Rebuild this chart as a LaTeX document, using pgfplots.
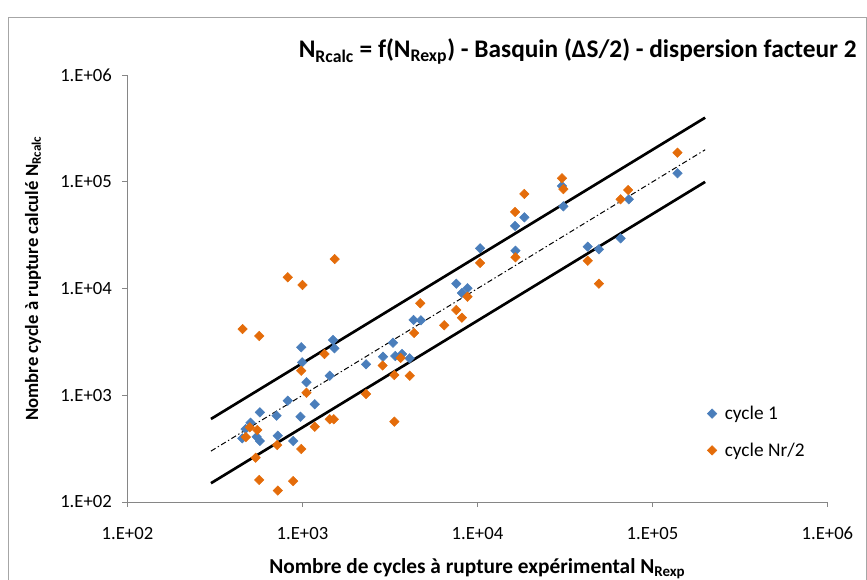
\documentclass[border=0pt]{standalone}
\usepackage{fontspec}
\setmainfont{Carlito}
\usepackage{pgfplots}
\pgfplotsset{compat=1.18}
\definecolor{cblue}{HTML}{4A7EBB}
\definecolor{corange}{HTML}{E46C0A}
\definecolor{axgray}{HTML}{868686}
\definecolor{bordergray}{HTML}{A6A6A6}
\begin{document}
\begin{tikzpicture}
\path[use as bounding box] (0,0) rectangle (650.25pt,434.25pt);
\draw[bordergray, line width=0.75pt] (6pt,-5pt) -- (6pt,420.75pt) -- (649.5pt,420.75pt) -- (649.5pt,-5pt);
\begin{axis}[
  at={(95.6pt,57.75pt)}, anchor=south west,
  scale only axis, width=525pt, height=320.1pt,
  xmode=log, ymode=log,
  xmin=1e2, xmax=1e6, ymin=1e2, ymax=1e6,
  axis x line*=bottom, axis y line*=left,
  axis line style={axgray, line width=0.75pt},
  xtick={1e2,1e3,1e4,1e5,1e6},
  xticklabels={1.E+02,1.E+03,1.E+04,1.E+05,1.E+06},
  ytick={1e2,1e3,1e4,1e5,1e6},
  yticklabels={1.E+02,1.E+03,1.E+04,1.E+05,1.E+06},
  xminorticks=false, yminorticks=false,
  tick align=outside, major tick length=3.75pt,
  tick style={axgray, line width=0.75pt},
  ticklabel style={font=\fontsize{14}{16}\selectfont, black},
  xticklabel style={yshift=-11.5pt},
  yticklabel style={xshift=-4.5pt},
  legend style={at={(0.828,0.232)}, anchor=north west, draw=none, fill=none,
    font=\fontsize{14.5}{17}\selectfont, row sep=12pt, inner sep=0pt,
    /tikz/every odd column/.append style={column sep=4pt}},
  legend cell align=left,
]
% dispersion lines
\addplot[black, line width=2pt, forget plot] coordinates {(300,600) (200000,400000)};
\addplot[black, line width=2pt, forget plot] coordinates {(300,150) (200000,100000)};
\addplot[black, line width=0.75pt, dash pattern=on 4pt off 2pt on 1pt off 2pt, forget plot] coordinates {(300,300) (200000,200000)};
% cycle 1
\addplot[only marks, mark=square*, mark size=2.5pt, mark options={rotate=45, cblue, draw=cblue, fill=cblue}] coordinates {
(453,395) (473,483) (505,553) (547,409) (571,373) (571,693) (711,644) (723,418)
(824,890) (885,373) (974,630) (984,2818) (996,2037) (1054,1324) (1175,824)
(1432,1527) (1496,3299) (1523,2756) (2309,1953) (2886,2301) (3290,3112)
(3393,2335) (3707,2438) (4093,2223) (4315,5081) (4753,5047) (7568,11117)
(8147,9099) (8770,10070) (10351,23878) (16406,38637) (16482,22646)
(18535,46560) (30400,91580) (30970,59020) (42660,24720) (49430,23350)
(65770,29580) (73280,68710) (139000,120500)
};
\addlegendentry{cycle 1}
% cycle Nr/2
\addplot[only marks, mark=square*, mark size=2.5pt, mark options={rotate=45, corange, draw=corange, fill=corange}] coordinates {
(455,4178) (566,3597) (824,12760) (1000,10810) (1528,18920) (475,406) (500,501)
(552,473) (540,260) (566,161) (717,342) (723,128) (885,157) (984,314)
(984,1701) (1054,1057) (1175,508) (1335,2438) (1432,596) (1510,596)
(2309,1028) (2871,1902) (3350,1549) (3350,566) (3640,2239) (4102,1524)
(4345,3837) (4710,7278) (6457,4529) (7568,6297) (8147,5333) (8770,8395)
(10351,17380) (16406,52240) (16482,19640) (18535,77090) (30400,108100)
(30970,85700) (42660,18250) (49430,11120) (65770,68710) (72600,83950)
(139000,187900)
};
\addlegendentry{cycle Nr/2}
\end{axis}
\node[anchor=base east, font=\bfseries\fontsize{19}{22}\selectfont] at (646pt,390.75pt)
  {N\textsubscript{Rcalc} = f(N\textsubscript{Rexp}) - Basquin (ΔS/2) - dispersion facteur 2};
\node[rotate=90, font=\bfseries\fontsize{14}{17}\selectfont] at (24.75pt,225.4pt)
  {Nombre cycle à rupture calculé N\textsubscript{Rcalc}};
\node[anchor=base, font=\bfseries\fontsize{16}{19}\selectfont] at (358pt,4.5pt)
  {Nombre de cycles à rupture expérimental N\textsubscript{Rexp}};
\end{tikzpicture}
\end{document}
